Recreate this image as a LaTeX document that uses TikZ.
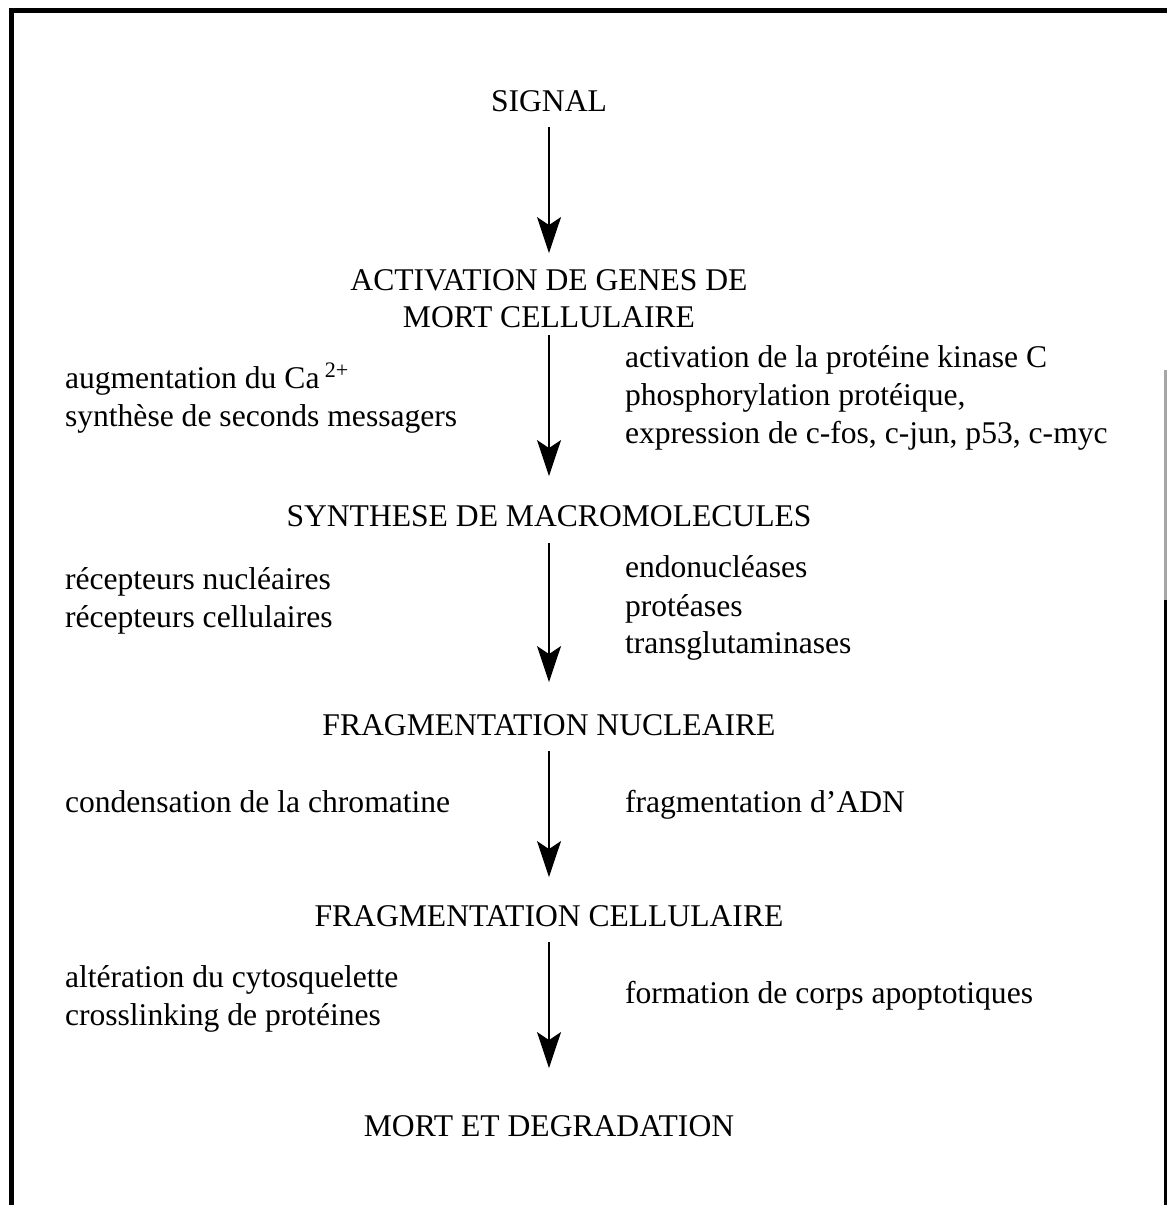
\documentclass[tikz,border=0pt]{standalone}
\usepackage{fontspec}
\setmainfont{Liberation Serif}
\usetikzlibrary{arrows.meta}
\tikzset{
  txt/.style={inner sep=0pt, outer sep=0pt, font=\fontsize{15.8}{19}\selectfont},
  ttl/.style={txt, anchor=base},
  lft/.style={txt, anchor=base west},
  flow/.style={line width=1pt, -{Stealth[length=18pt, width=12pt, inset=4pt]}},
  frame/.style={line width=2.5pt, line cap=rect}
}
\begin{document}
\begin{tikzpicture}[x=0.5pt, y=-0.5pt]
\useasboundingbox (0,0) rectangle (1167,1205);
% frame
\draw[frame] (11,1205) -- (11,10) -- (1167,10);
\draw[line width=1.5pt, black!35] (1165,370) -- (1165,600);
\draw[line width=1.5pt] (1165,600) -- (1165,1205);

% titles
\node[ttl] (sig)  at (549,111.5) {SIGNAL};
\node[ttl] (act1) at (549,290) {ACTIVATION DE GENES DE};
\node[ttl] (act2) at (549,327) {MORT CELLULAIRE};
\node[ttl] (syn)  at (549,526) {SYNTHESE DE MACROMOLECULES};
\node[ttl] (fnuc) at (549,735) {FRAGMENTATION NUCLEAIRE};
\node[ttl] (fcel) at (549,926) {FRAGMENTATION CELLULAIRE};
\node[ttl] (mort) at (549,1136) {MORT ET DEGRADATION};

% left texts
\node[lft] (l1a) at (65,388) {augmentation du Ca\,\textsuperscript{2+}};
\node[lft] (l1b) at (65,426) {synthèse de seconds messagers};
\node[lft] (l2a) at (65,589) {récepteurs nucléaires};
\node[lft] (l2b) at (65,627) {récepteurs cellulaires};
\node[lft] (l3a) at (65,812) {condensation de la chromatine};
\node[lft] (l4a) at (65,987) {altération du cytosquelette};
\node[lft] (l4b) at (65,1025) {crosslinking de protéines};

% right texts
\node[lft] (r1a) at (625,367) {activation de la protéine kinase C};
\node[lft] (r1b) at (625,405) {phosphorylation protéique,};
\node[lft] (r1c) at (625,443) {expression de c-fos, c-jun, p53, c-myc};
\node[lft] (r2a) at (625,577) {endonucléases};
\node[lft] (r2b) at (625,616) {protéases};
\node[lft] (r2c) at (625,653) {transglutaminases};
\node[lft] (r3a) at (625,812) {fragmentation d’ADN};
\node[lft] (r4a) at (625,1003) {formation de corps apoptotiques};

% arrows
\draw[flow, shorten <=7.75pt, shorten >=8pt]  (sig.south)  -- (act1.north);
\draw[flow, shorten <=4pt,    shorten >=14.5pt] (act2.south) -- (syn.north);
\draw[flow, shorten <=8.5pt,  shorten >=16pt] (syn.south)  -- (fnuc.north);
\draw[flow, shorten <=8pt,    shorten >=14pt] (fnuc.south) -- (fcel.north);
\draw[flow, shorten <=8pt,    shorten >=23.5pt] (fcel.south) -- (mort.north);
\end{tikzpicture}
\end{document}
